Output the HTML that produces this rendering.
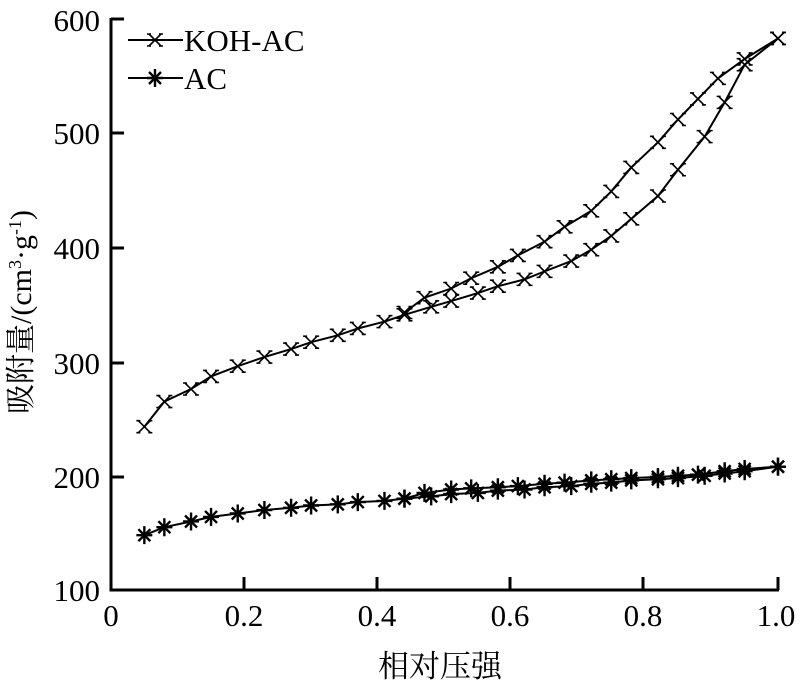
<!DOCTYPE html><html><head><meta charset="utf-8"><style>body{margin:0;background:#fff}svg{display:block}text{font-family:"Liberation Serif","Noto Serif CJK SC",serif;fill:#000}</style></head><body>
<svg id="s" width="801" height="686" xmlns="http://www.w3.org/2000/svg">
<g stroke="#000" stroke-width="3" fill="none">
<path d="M111 18 V590 H779"/>
<path d="M111 477h13M111 363h13M111 248h13M111 133h13M111 19h13"/>
<path d="M244 590v-13M377 590v-13M510 590v-13M643 590v-13M778 590v-13"/>
</g>
<g font-size="31" text-anchor="end">
<text x="100" y="601">100</text><text x="100" y="488">200</text><text x="100" y="374">300</text><text x="100" y="259">400</text><text x="100" y="144">500</text><text x="100" y="31">600</text>
</g>
<g font-size="31" text-anchor="middle">
<text x="111" y="626">0</text><text x="244" y="626">0.2</text><text x="377" y="626">0.4</text><text x="510" y="626">0.6</text><text x="643" y="626">0.8</text><text x="776" y="626">1.0</text>
<text x="440" y="677" font-size="31">相对压强</text>
<text transform="translate(31,312) rotate(-90)" font-size="30">吸附量/(cm<tspan font-size="18" dy="-10">3</tspan><tspan dy="10">·g</tspan><tspan font-size="18" dy="-10">-1</tspan><tspan dy="10">)</tspan></text>
</g>
<g font-size="31"><text x="184" y="51">KOH-AC</text><text x="184" y="89">AC</text></g>
<g id="d" stroke="#000" fill="none"></g>
</svg>
<script>
var X=v=>111+v*667,Y=v=>590-(v-100)*1.142;
var ka=[[.05,243],[.08,265],[.12,276],[.15,287],[.19,296],[.23,304],[.27,311],[.3,317],[.34,323],[.37,329],[.41,335],[.44,341],[.48,348],[.51,353],[.55,360],[.58,366],[.62,372],[.65,379],[.69,388],[.72,398],[.75,410],[.78,425],[.82,445],[.85,468],[.89,497],[.92,527],[.95,560],[1,583]];
var kd=[[1,583],[.95,565],[.91,548],[.88,530],[.85,512],[.82,492],[.78,470],[.75,449],[.72,432],[.68,418],[.65,405],[.61,393],[.58,383],[.54,373],[.51,364],[.47,356],[.44,343]];
var aa=[[.05,148],[.08,155],[.12,160],[.15,164],[.19,167],[.23,170],[.27,172],[.3,174],[.34,175],[.37,177],[.41,178],[.44,180],[.48,182],[.51,184],[.55,185],[.58,187],[.62,188],[.65,190],[.69,191],[.72,193],[.75,194],[.78,196],[.82,197],[.85,198],[.89,200],[.92,202],[.95,204],[1,208]];
var ad=[[1,208],[.95,206],[.92,204],[.88,201],[.85,200],[.82,199],[.78,198],[.75,197],[.72,196],[.68,194],[.65,193],[.61,191],[.58,190],[.54,189],[.51,188],[.47,185],[.44,180]];
var h='';
function line(a){h+='<polyline stroke-width="2" points="'+a.map(p=>X(p[0])+','+Y(p[1])).join(' ')+'"/>';}
function kx(x,y){h+='<path stroke-width="1.6" d="M'+(x-6)+' '+(y-6)+'L'+(x+6)+' '+(y+6)+'M'+(x+6)+' '+(y-6)+'L'+(x-6)+' '+(y+6)+'M'+(x-8)+' '+(y-6)+'h4M'+(x+4)+' '+(y-6)+'h4M'+(x-8)+' '+(y+6)+'h4M'+(x+4)+' '+(y+6)+'h4"/>';}
function as(x,y){h+='<path stroke-width="2.4" d="M'+(x-8)+' '+y+'h16M'+x+' '+(y-9)+'v18M'+(x-6)+' '+(y-6)+'l12 12M'+(x+6)+' '+(y-6)+'l-12 12"/>';}
line(ka);line(kd);line(aa);line(ad);
ka.concat(kd).forEach(p=>kx(X(p[0]),Y(p[1])));
aa.concat(ad).forEach(p=>as(X(p[0]),Y(p[1])));
h+='<path stroke-width="2" d="M128 40H183M128 78H183"/>';kx(155,40);as(155,78);
document.getElementById('d').innerHTML=h;
</script>
</body></html>
